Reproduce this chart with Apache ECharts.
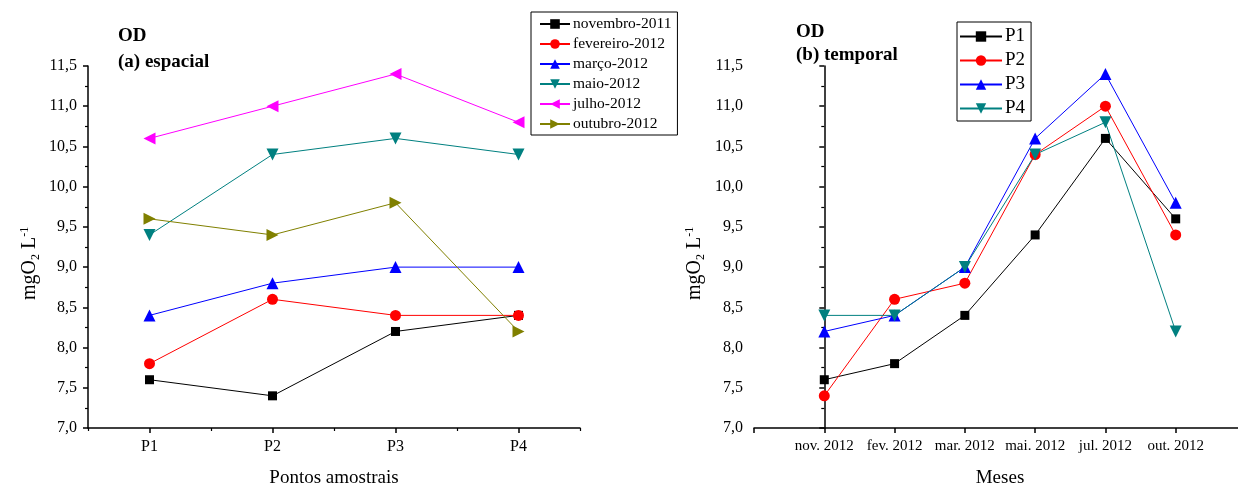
<!DOCTYPE html>
<html><head><meta charset="utf-8">
<script src="https://cdn.jsdelivr.net/npm/echarts@6/dist/echarts.min.js"></script>
<style>html,body{margin:0;padding:0;background:#fff}#c{width:1238px;height:487px}</style>
</head><body><div id="c"></div>
<script>
// ---- data ----
var pontos = ['P1', 'P2', 'P3', 'P4'];
var meses = ['nov. 2012', 'fev. 2012', 'mar. 2012', 'mai. 2012', 'jul. 2012', 'out. 2012'];
var seriesA = ['novembro-2011', 'fevereiro-2012', 'março-2012', 'maio-2012', 'julho-2012', 'outubro-2012'];
var nov2011 = [7.6, 7.4, 8.2, 8.4];
var fev2012 = [7.8, 8.6, 8.4, 8.4];
var mar2012 = [8.4, 8.8, 9.0, 9.0];
var mai2012 = [9.4, 10.4, 10.6, 10.4];
var jul2012 = [10.6, 11.0, 11.4, 10.8];
var out2012 = [9.6, 9.4, 9.8, 8.2];
var seriesB = ['P1', 'P2', 'P3', 'P4'];
var p1 = [7.6, 7.8, 8.4, 9.4, 10.6, 9.6];
var p2 = [7.4, 8.6, 8.8, 10.4, 11.0, 9.4];
var p3 = [8.2, 8.4, 9.0, 10.6, 11.4, 9.8];
var p4 = [8.4, 8.4, 9.0, 10.4, 10.8, 8.2];
var yTicks = {min: 7.0, max: 11.5, interval: 0.5};

// ---- styles ----
var FONT = '"Liberation Serif", "DejaVu Serif", serif';
var colors = ['#000000', '#ff0000', '#0000ff', '#008080', '#ff00ff', '#808000'];
var symbols = [
  {symbol: 'rect', size: 9, rot: 0},
  {symbol: 'circle', size: 11, rot: 0},
  {symbol: 'triangle', size: 12, rot: 0},
  {symbol: 'triangle', size: 12, rot: 180},
  {symbol: 'triangle', size: 12, rot: 90},
  {symbol: 'triangle', size: 12, rot: -90}
];
var valuesA = [nov2011, fev2012, mar2012, mai2012, jul2012, out2012];
var valuesB = [p1, p2, p3, p4];

function yAxisDef(gridIndex) {
  return {
    type: 'value', gridIndex: gridIndex,
    min: yTicks.min, max: yTicks.max, interval: yTicks.interval,
    splitLine: {show: false},
    axisLine: {show: true, lineStyle: {color: '#000', width: 1.5}},
    axisTick: {show: true, inside: false, length: 5, lineStyle: {color: '#000', width: 1.5}},
    minorTick: {show: true, splitNumber: 2, length: 3, lineStyle: {color: '#000', width: 1.2}},
    axisLabel: {color: '#000', fontFamily: FONT, fontSize: 16, margin: 11,
      formatter: function (v) { return v.toFixed(1).replace('.', ','); }}
  };
}

var series = [];
valuesA.forEach(function (vals, i) {
  series.push({
    name: seriesA[i], type: 'line', xAxisIndex: 0, yAxisIndex: 0,
    data: vals, symbol: symbols[i].symbol, symbolSize: symbols[i].size,
    symbolRotate: symbols[i].rot, showAllSymbol: true,
    itemStyle: {color: colors[i]}, lineStyle: {color: colors[i], width: 1},
    emphasis: {disabled: true}, animation: false
  });
});
valuesB.forEach(function (vals, i) {
  series.push({
    name: seriesB[i], type: 'line', xAxisIndex: 2, yAxisIndex: 1,
    data: vals.map(function (v, k) { return [k, v]; }),
    symbol: symbols[i].symbol, symbolSize: symbols[i].size,
    symbolRotate: symbols[i].rot, showAllSymbol: true,
    itemStyle: {color: colors[i]}, lineStyle: {color: colors[i], width: 1},
    emphasis: {disabled: true}, animation: false
  });
});

var titleStyle = {fontFamily: FONT, fontSize: 19, fontWeight: 'bold', color: '#000'};
var chart = echarts.init(document.getElementById('c'), null, {renderer: 'canvas'});
chart.setOption({
  backgroundColor: '#fff',
  animation: false,
  textStyle: {fontFamily: FONT},
  grid: [
    {left: 88, top: 66, width: 492, height: 362, outerBoundsMode: 'none', containLabel: false},
    {left: 754, top: 66, width: 492, height: 362, outerBoundsMode: 'none', containLabel: false}
  ],
  title: [
    {text: 'OD', left: 113, top: 22, padding: 5, textStyle: titleStyle},
    {text: '(a) espacial', left: 113, top: 48, padding: 5, textStyle: titleStyle},
    {text: 'OD', left: 791, top: 18, padding: 5, textStyle: titleStyle},
    {text: '(b) temporal', left: 791, top: 41, padding: 5, textStyle: titleStyle}
  ],
  legend: [
    {
      data: seriesA, orient: 'vertical', left: 531, top: 12,
      padding: [4, 6, 3, 8], itemWidth: 30, itemHeight: 12, itemGap: 4,
      borderColor: '#000', borderWidth: 1, borderRadius: 0,
      textStyle: {fontFamily: FONT, fontSize: 15.5, color: '#000', padding: [0, 0, 0, -2]},
      selectedMode: false
    },
    {
      data: seriesB, orient: 'vertical', left: 957, top: 22,
      padding: [5, 6, 3, 2], itemWidth: 42, itemHeight: 13, itemGap: 5,
      borderColor: '#000', borderWidth: 1, borderRadius: 0,
      textStyle: {fontFamily: FONT, fontSize: 19, color: '#000', padding: [0, 0, 0, -2]},
      selectedMode: false
    }
  ],
  xAxis: [
    {
      type: 'category', gridIndex: 0, data: pontos, boundaryGap: true, position: 'bottom',
      axisLine: {show: true, lineStyle: {color: '#000', width: 1.5}},
      axisTick: {show: true, alignWithLabel: true, length: 5, lineStyle: {color: '#000', width: 1.5}},
      axisLabel: {color: '#000', fontFamily: FONT, fontSize: 16, margin: 11},
      name: 'Pontos amostrais', nameLocation: 'middle', nameGap: 41,
      nameTextStyle: {fontFamily: FONT, fontSize: 19, color: '#000'},
      splitLine: {show: false}
    },
    {
      type: 'category', gridIndex: 0, data: pontos, boundaryGap: true, position: 'bottom',
      axisLine: {show: false},
      axisTick: {show: true, alignWithLabel: false, length: 3, lineStyle: {color: '#000', width: 1.2}},
      axisLabel: {show: false}, splitLine: {show: false}
    },
    {
      type: 'value', gridIndex: 1, min: -1, max: 6, interval: 1, position: 'bottom',
      axisLine: {show: true, lineStyle: {color: '#000', width: 1.5}},
      axisTick: {show: true, length: 5, lineStyle: {color: '#000', width: 1.5}},
      axisLabel: {color: '#000', fontFamily: FONT, fontSize: 15, margin: 11, showMinLabel: true, showMaxLabel: true,
        formatter: function (v) { return meses[v] !== undefined ? meses[v] : ''; }},
      name: 'Meses', nameLocation: 'middle', nameGap: 41,
      nameTextStyle: {fontFamily: FONT, fontSize: 19, color: '#000'},
      splitLine: {show: false}
    }
  ],
  yAxis: [yAxisDef(0), yAxisDef(1)],
  graphic: [
    {type: 'text', x: 18, y: 300, rotation: Math.PI / 2,
      style: {text: 'mgO{sub|2} L{sup|-1}', fill: '#000', font: '20px ' + FONT,
        rich: {sub: {fontSize: 12, fontFamily: FONT, padding: [12, 0, 0, 0]}, sup: {fontSize: 12, fontFamily: FONT, padding: [0, 0, 10, 0]}}}},
    {type: 'text', x: 683, y: 300, rotation: Math.PI / 2,
      style: {text: 'mgO{sub|2} L{sup|-1}', fill: '#000', font: '20px ' + FONT,
        rich: {sub: {fontSize: 12, fontFamily: FONT, padding: [12, 0, 0, 0]}, sup: {fontSize: 12, fontFamily: FONT, padding: [0, 0, 10, 0]}}}}
  ],
  series: series
});
</script></body></html>
